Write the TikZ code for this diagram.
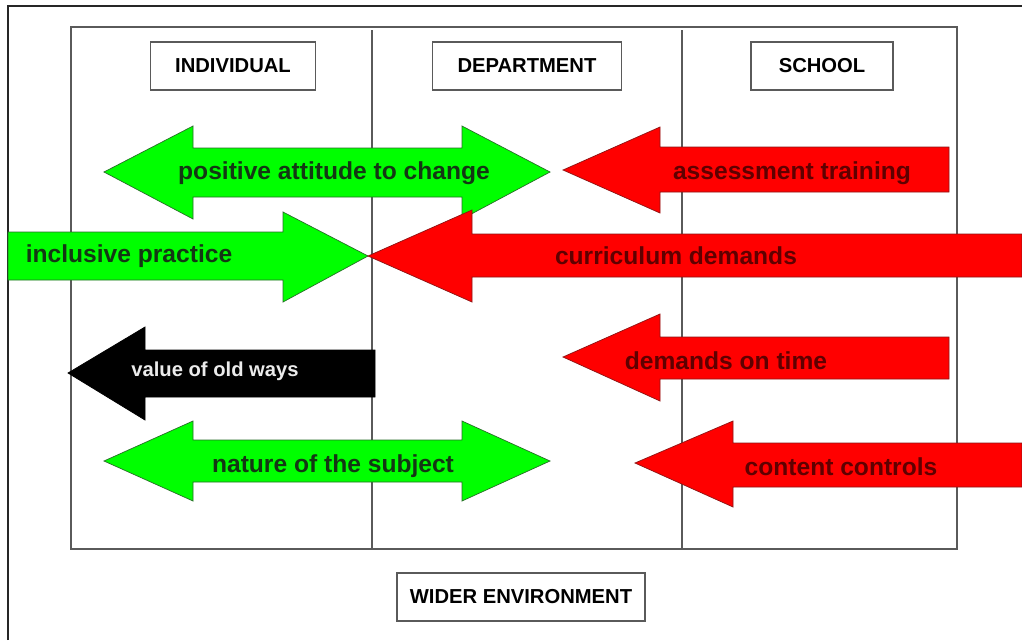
\documentclass[tikz,border=0pt]{standalone}
\usepackage{fontspec}
\setmainfont{Liberation Sans}
\usepackage{tikz}

\definecolor{gain}{RGB}{0,255,0}
\definecolor{gainline}{RGB}{40,110,40}
\definecolor{gaintext}{RGB}{20,55,20}
\definecolor{strain}{RGB}{255,0,0}
\definecolor{strainline}{RGB}{140,20,20}
\definecolor{straintext}{RGB}{95,0,0}
\definecolor{frameline}{RGB}{90,90,90}

\begin{document}
\begin{tikzpicture}[x=0.02cm, y=-0.02cm,
				level/.style={rectangle, draw=frameline, line width=0.9pt, fill=white, minimum width=3.3cm, minimum height=0.95cm, font=\fontsize{11.5}{13}\selectfont\bfseries},
				wider/.style={level, minimum width=4.95cm},
				pro/.style={fill=gain, draw=gainline, line width=0.4pt},
				contra/.style={fill=strain, draw=strainline, line width=0.4pt},
				old/.style={fill=black, draw=black, line width=0.4pt},
				prolabel/.style={text=gaintext, font=\fontsize{14}{16}\selectfont\bfseries},
				contralabel/.style={text=straintext, font=\fontsize{14}{16}\selectfont\bfseries},
				oldlabel/.style={text=white!92!black, font=\fontsize{11.5}{13}\selectfont\bfseries}]
	\useasboundingbox[fill=white] (0,0) rectangle (1022,640);
	% frames and columns
	\draw[black!85, line width=1.1pt] (8,640) -- (8,6) -- (1022,6);
	\draw[frameline, line width=0.8pt] (71,27) rectangle (957,549);
	\draw[frameline, line width=0.8pt] (372,30) -- (372,549);
	\draw[frameline, line width=0.8pt] (682,30) -- (682,549);
	\node[level] (I) at (233,66) {INDIVIDUAL};
	\node[level, minimum width=3.78cm] (D) at (527,66) {DEPARTMENT};
	\node[level, minimum width=2.85cm] (S) at (822,66) {SCHOOL};
	\node[wider] (W) at (521,597) {WIDER ENVIRONMENT};
	% arrows
	\draw[pro] (104,172) -- (193,126) -- (193,148) -- (462,148) -- (462,126) -- (550,172)
		-- (462,219) -- (462,197) -- (193,197) -- (193,219) -- cycle;
	\draw[contra] (563,170) -- (660,127) -- (660,147) -- (949,147) -- (949,192) -- (660,192) -- (660,213) -- cycle;
	\draw[pro] (8,232) -- (283,232) -- (283,212) -- (368,256) -- (283,302) -- (283,280) -- (8,280) -- cycle;
	\draw[contra] (368,256) -- (472,210) -- (472,234) -- (1022,234) -- (1022,277) -- (472,277) -- (472,302) -- cycle;
	\draw[old] (68,373) -- (145,327) -- (145,350) -- (375,350) -- (375,397) -- (145,397) -- (145,420) -- cycle;
	\draw[contra] (563,357) -- (660,314) -- (660,337) -- (949,337) -- (949,379) -- (660,379) -- (660,401) -- cycle;
	\draw[pro] (104,461) -- (193,421) -- (193,440) -- (462,440) -- (462,421) -- (550,461)
		-- (462,501) -- (462,482) -- (193,482) -- (193,501) -- cycle;
	\draw[contra] (635,463) -- (733,421) -- (733,443) -- (1022,443) -- (1022,487) -- (733,487) -- (733,507) -- cycle;
	% labels
	\node[prolabel] (PA) at (334,173) {positive attitude to change};
	\node[contralabel] (AT) at (792,173) {assessment training};
	\node[prolabel] (IP) at (129,256) {inclusive practice};
	\node[contralabel] (CD) at (676,256) {curriculum demands};
	\node[oldlabel] (VO) at (215,371) {value of old ways};
	\node[contralabel] (DT) at (726,361) {demands on time};
	\node[prolabel] (NS) at (333,466) {nature of the subject};
	\node[contralabel] (CC) at (841,467) {content controls};
\end{tikzpicture}
\end{document}
